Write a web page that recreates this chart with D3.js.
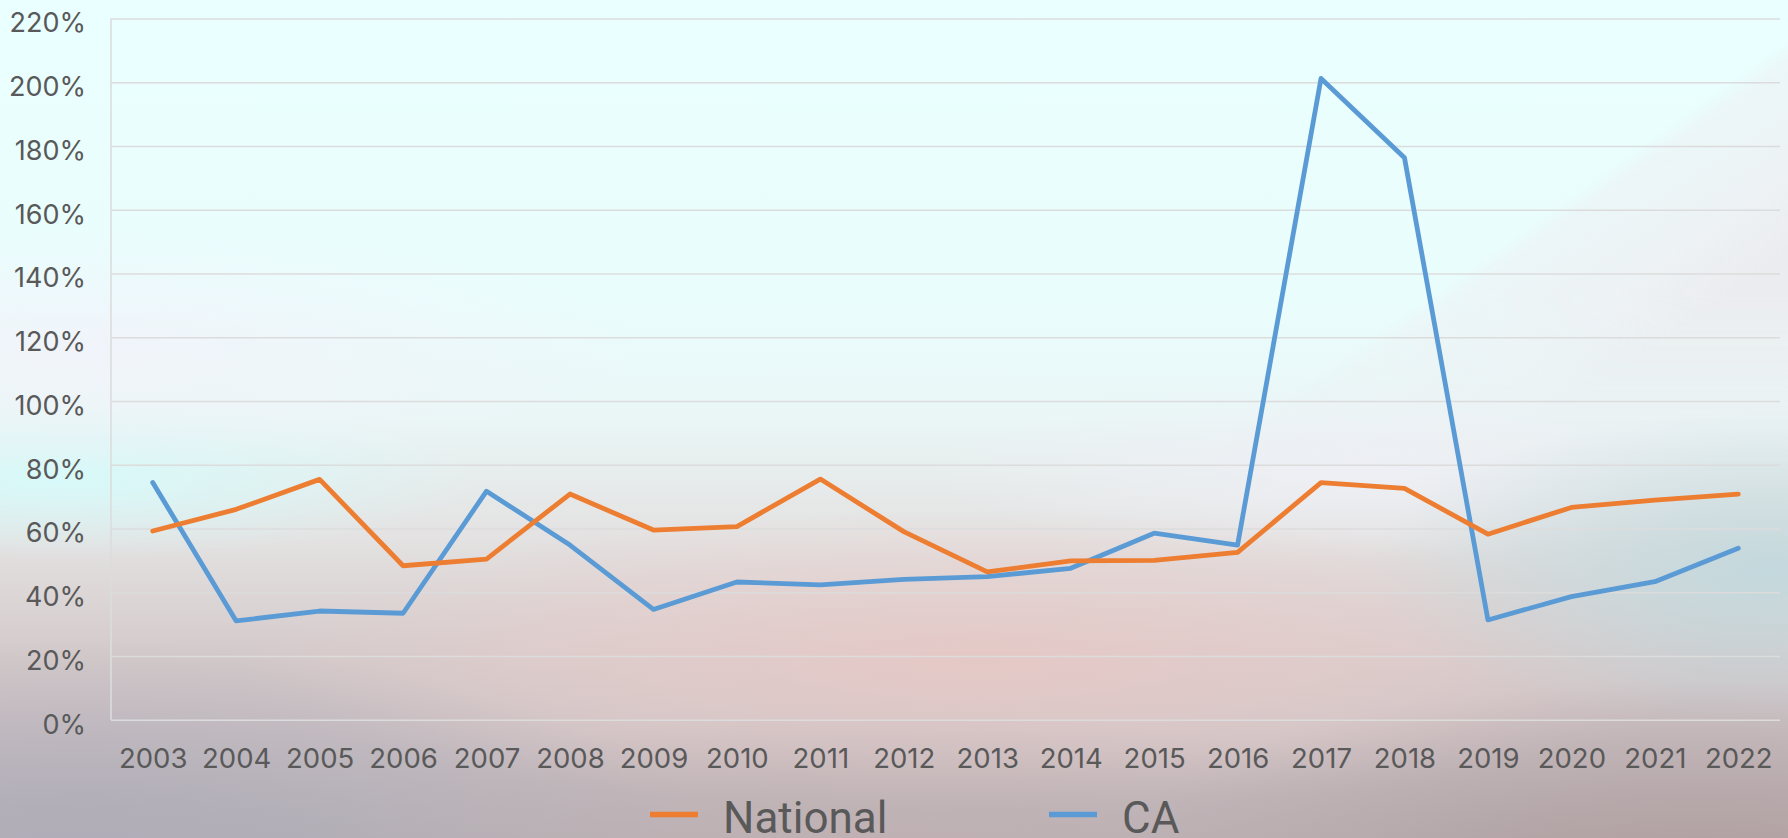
<!DOCTYPE html>
<html>
<head>
<meta charset="utf-8">
<script src="https://cdn.jsdelivr.net/npm/d3@7"></script>
<style>
  html, body { margin: 0; padding: 0; background: #eaffff; }
  svg { display: block; }
</style>
</head>
<body>
<svg id="chart" width="1788" height="838"></svg>
<script>
// Year categories and the two rate series (fractions: 0.5 = 50%)
const years = ["2003","2004","2005","2006","2007","2008","2009","2010","2011","2012",
               "2013","2014","2015","2016","2017","2018","2019","2020","2021","2022"];
const nationalValues = [0.592, 0.660, 0.754, 0.483, 0.504, 0.708, 0.595, 0.606, 0.755, 0.590,
                        0.464, 0.498, 0.500, 0.525, 0.744, 0.726, 0.582, 0.666, 0.689, 0.708];
const caValues       = [0.744, 0.310, 0.341, 0.334, 0.717, 0.548, 0.346, 0.432, 0.423, 0.440,
                        0.449, 0.475, 0.585, 0.548, 2.012, 1.763, 0.313, 0.386, 0.433, 0.538];
const yTicks = [0, 0.2, 0.4, 0.6, 0.8, 1.0, 1.2, 1.4, 1.6, 1.8, 2.0, 2.2];
const seriesNames = ["National", "CA"];
const seriesColors = ["#ED7D31", "#5B9BD5"];

const W = 1788, H = 838;
const plot = { left: 111, right: 1780, top: 18.5, bottom: 719.7 };

const svg = d3.select("#chart");
const defs = svg.append("defs");

// ---- soft gradient backdrop ----
function linGrad(id, x1, y1, x2, y2, stops) {
  const g = defs.append("linearGradient").attr("id", id)
    .attr("gradientUnits", "userSpaceOnUse")
    .attr("x1", x1).attr("y1", y1).attr("x2", x2).attr("y2", y2);
  stops.forEach(s => g.append("stop").attr("offset", s[0]).attr("stop-color", s[1]).attr("stop-opacity", s[2] === undefined ? 1 : s[2]));
  return "url(#" + id + ")";
}
function radGrad(id, stops) {
  const g = defs.append("radialGradient").attr("id", id);
  stops.forEach(s => g.append("stop").attr("offset", s[0]).attr("stop-color", s[1]).attr("stop-opacity", s[2]));
  return "url(#" + id + ")";
}

const bg = svg.append("g").attr("class", "backdrop");
bg.append("rect").attr("width", W).attr("height", H)
  .attr("fill", linGrad("bgBase", 0, 0, 0, H, [
    [0, "#eaffff"], [0.36, "#eafdfd"], [0.5, "#eaf6f6"], [0.64, "#e4e2e2"],
    [0.78, "#d4cacb"], [0.9, "#c6bcc0"], [1, "#b8b2b6"]
  ]));

// light grey sheen to the lower right of a diagonal in the top-right corner
const sheenMask = defs.append("mask").attr("id", "sheenMask")
  .attr("maskUnits", "userSpaceOnUse").attr("x", 0).attr("y", 0).attr("width", W).attr("height", H);
sheenMask.append("rect").attr("width", W).attr("height", H)
  .attr("fill", linGrad("sheenFade", 0, 0, 0, H, [[0, "#fff"], [0.35, "#fff"], [0.58, "#000"]]));
bg.append("rect").attr("width", W).attr("height", H)
  .attr("mask", "url(#sheenMask)")
  .attr("fill", linGrad("gSheen", 1620, 160, 1720, 300, [
    [0, "#ededf0", 0], [0.1, "#eeeef1", 0.45], [0.6, "#eeeef1", 0.75], [1, "#ebebee", 0.95]
  ]));

// cyan band on the left, middle height
bg.append("ellipse").attr("cx", 60).attr("cy", 480).attr("rx", 420).attr("ry", 80)
  .attr("fill", radGrad("gCyan", [[0, "#d6fbfb", 0.9], [1, "#d6fbfb", 0]]));
// pale lavender wash at the left
bg.append("ellipse").attr("cx", 90).attr("cy", 350).attr("rx", 560).attr("ry", 120)
  .attr("fill", radGrad("gLav", [[0, "#f3f2fa", 0.75], [1, "#f3f2fa", 0]]));
// pale wash across the middle right
bg.append("ellipse").attr("cx", 1350).attr("cy", 470).attr("rx", 420).attr("ry", 90)
  .attr("fill", radGrad("gWash", [[0, "#eff0f6", 0.8], [1, "#eff0f6", 0]]));
// warm pink glow at centre bottom
bg.append("ellipse").attr("cx", 980).attr("cy", 660).attr("rx", 740).attr("ry", 150)
  .attr("fill", radGrad("gPink", [[0, "#e8c8c5", 0.85], [0.6, "#e8cfcc", 0.45], [1, "#e8cfcc", 0]]));
// cool blue-grey on the right
bg.append("ellipse").attr("cx", 1770).attr("cy", 570).attr("rx", 400).attr("ry", 160)
  .attr("fill", radGrad("gBlue", [[0, "#c0d8dd", 0.9], [1, "#c0d8dd", 0]]));
// grey-lavender at bottom-left
bg.append("ellipse").attr("cx", 80).attr("cy", 860).attr("rx", 620).attr("ry", 220)
  .attr("fill", radGrad("gGrey", [[0, "#aeacb8", 0.95], [1, "#aeacb8", 0]]));
// mauve at bottom-right
bg.append("ellipse").attr("cx", 1700).attr("cy", 880).attr("rx", 600).attr("ry", 200)
  .attr("fill", radGrad("gMauve", [[0, "#b09c9c", 0.9], [1, "#b09c9c", 0]]));
// pinkish-grey along the bottom middle
bg.append("ellipse").attr("cx", 900).attr("cy", 860).attr("rx", 600).attr("ry", 150)
  .attr("fill", radGrad("gLow", [[0, "#c2b0b2", 0.8], [1, "#c2b0b2", 0]]));

// ---- scales ----
const x = d3.scalePoint().domain(years).range([plot.left, plot.right]).padding(0.5);
const y = d3.scaleLinear().domain([0, 2.2]).range([plot.bottom, plot.top]);

const gridColor = "#dcdcdc";
const textColor = "#595959";

// ---- y axis with gridlines ----
const yAxis = d3.axisLeft(y)
  .tickValues(yTicks)
  .tickFormat(d3.format(".0%"))
  .tickSize(-(plot.right - plot.left))
  .tickPadding(25);

const gy = svg.append("g").attr("transform", `translate(${plot.left},0)`).call(yAxis);
gy.select(".domain").remove();
gy.selectAll(".tick line").attr("stroke", gridColor).attr("stroke-width", 1.6);
gy.selectAll(".tick text")
  .attr("fill", textColor)
  .attr("font-family", "Inter, 'Noto Sans', sans-serif")
  .attr("font-size", 27)
  .attr("dy", 13.4);

// vertical axis line
svg.append("line")
  .attr("x1", plot.left).attr("x2", plot.left)
  .attr("y1", y(2.2)).attr("y2", y(0))
  .attr("stroke", gridColor).attr("stroke-width", 1.6);

// ---- x axis ----
const xAxis = d3.axisBottom(x).tickSize(0).tickPadding(0);
const gx = svg.append("g").attr("transform", `translate(0,${plot.bottom})`).call(xAxis);
gx.select(".domain").remove();
gx.selectAll(".tick text")
  .attr("fill", textColor)
  .attr("font-family", "Inter, 'Noto Sans', sans-serif")
  .attr("font-size", 27.5)
  .attr("y", 48.6)
  .attr("dy", 0);

// ---- series lines ----
const line = d3.line()
  .x((d, i) => x(years[i]))
  .y(d => y(d));

const series = [nationalValues, caValues];
// CA is drawn first so the National line sits on top
[1, 0].forEach(k => {
  svg.append("path")
    .datum(series[k])
    .attr("d", line)
    .attr("fill", "none")
    .attr("stroke", seriesColors[k])
    .attr("stroke-width", 4.8)
    .attr("stroke-linejoin", "round")
    .attr("stroke-linecap", "round");
});

// ---- legend ----
const legendItems = [
  { name: seriesNames[0], color: seriesColors[0], x0: 650 },
  { name: seriesNames[1], color: seriesColors[1], x0: 1049 }
];
const lg = svg.append("g").attr("class", "legend");
legendItems.forEach(it => {
  lg.append("line")
    .attr("x1", it.x0).attr("x2", it.x0 + 48)
    .attr("y1", 814.5).attr("y2", 814.5)
    .attr("stroke", it.color).attr("stroke-width", 5.6);
  lg.append("text")
    .attr("x", it.x0 + 73).attr("y", 833.3)
    .attr("fill", textColor)
    .attr("font-family", "Roboto, 'Noto Sans', sans-serif")
    .attr("font-size", 44)
    .text(it.name);
});
</script>
</body>
</html>
